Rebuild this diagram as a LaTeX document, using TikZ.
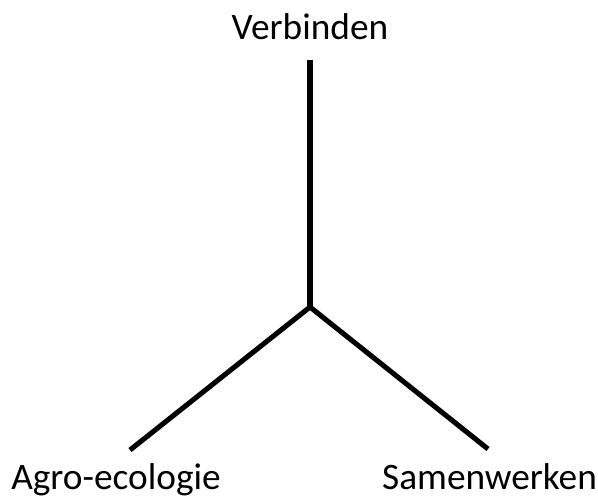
\documentclass[tikz,border=0pt]{standalone}
\usepackage{fontspec}
\setmainfont{Carlito}
\usepackage{tikz}
\usetikzlibrary{calc}
\tikzset{
	tak/.style={line width=3.8pt, color=black},
	woord/.style={font=\fontsize{28}{32}\selectfont, inner sep=0pt, anchor=base}
}

\begin{document}
\begin{tikzpicture}[x=0.75pt, y=-0.75pt]
			%%%%% START %%%%%
			\useasboundingbox (0, 0) rectangle (598, 497);
			
			\coordinate (midden) at (310, 307);
			\coordinate (boven) at (310, 60);
			\coordinate (links) at (130, 450);
			\coordinate (rechts) at (488, 449);
			
			\node[woord] (verbinden) at (310, 39) {Verbinden};
			\node[woord] (agro) at (116, 489) {Agro-ecologie};
			\node[woord] (samen) at (489.5, 489) {Samenwerken};
			
			\draw[tak] (boven) -- (midden);
			\draw[tak] (midden) -- (links);
			\draw[tak] (midden) -- (rechts);
			
			%%%%% END %%%%%
\end{tikzpicture}
\end{document}
